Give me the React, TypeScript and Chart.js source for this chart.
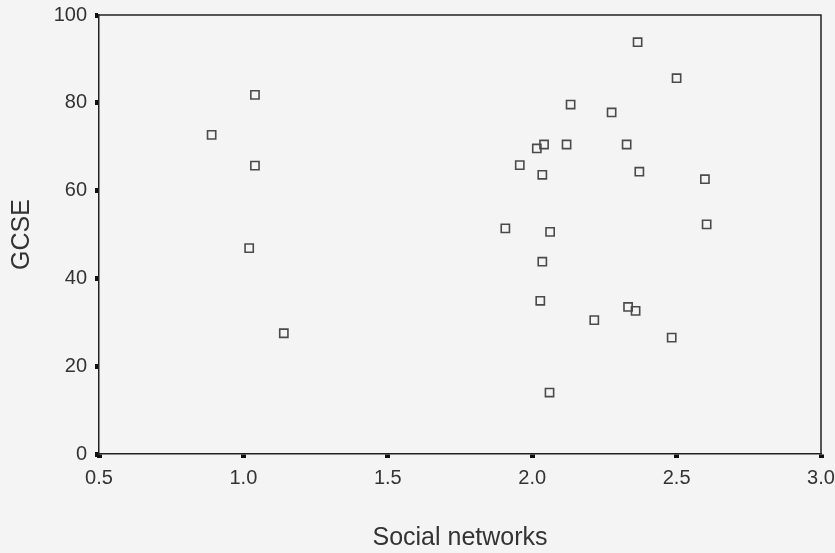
import React, { useEffect, useRef } from "react";
import { Chart, registerables } from "chart.js";

Chart.register(...registerables);

// Social networks score (x) and GCSE score (y) for each respondent
const socialNetworks: number[] = [
  1.04, 0.89, 1.04, 1.02, 1.14,
  2.365, 2.50, 2.133, 2.275, 2.041, 2.016, 2.119, 2.327, 1.957, 2.035, 2.371,
  2.598, 1.907, 2.062, 2.604, 2.035, 2.028, 2.215, 2.332, 2.358, 2.483, 2.06,
];
const gcse: number[] = [
  81.8, 72.7, 65.7, 46.9, 27.5,
  93.8, 85.6, 79.6, 77.8, 70.5, 69.6, 70.5, 70.5, 65.8, 63.6, 64.3,
  62.6, 51.4, 50.6, 52.3, 43.8, 34.9, 30.5, 33.5, 32.6, 26.5, 14.0,
];

const xTitle = "Social networks";
const yTitle = "GCSE";
const xMin = 0.5;
const xMax = 3.0;
const xStep = 0.5;
const yMin = 0;
const yMax = 100;
const yStep = 20;

const FONT = "'Liberation Sans', Arial, Helvetica, sans-serif";

export default function App() {
  const ref = useRef<HTMLCanvasElement | null>(null);

  useEffect(() => {
    const canvas = ref.current;
    if (!canvas) return;
    const points = socialNetworks.map((x, i) => ({ x, y: gcse[i] }));

    const bgPlugin = {
      id: "bg",
      beforeDraw(chart: any) {
        const ctx = chart.ctx;
        ctx.save();
        ctx.fillStyle = "#f4f4f4";
        ctx.fillRect(0, 0, chart.width, chart.height);
        ctx.restore();
      },
      afterDraw(chart: any) {
        const { left, top, right, bottom } = chart.chartArea;
        const ctx = chart.ctx;
        ctx.save();
        ctx.strokeStyle = "#222";
        ctx.lineWidth = 1.5;
        ctx.beginPath();
        ctx.moveTo(left, top);
        ctx.lineTo(right, top);
        ctx.lineTo(right, bottom);
        ctx.stroke();
        ctx.restore();
      },
    };

    const chart = new Chart(canvas, {
      type: "scatter",
      data: {
        datasets: [
          {
            data: points,
            pointStyle: "rect",
            pointRadius: 5.8,
            pointHoverRadius: 5.8,
            borderColor: "#4a4a4a",
            borderWidth: 1.6,
            backgroundColor: "rgba(0,0,0,0)",
          },
        ],
      },
      options: {
        animation: false,
        responsive: false,
        events: [],
        layout: { padding: { left: 0, top: 15, right: 14, bottom: 0 } },
        plugins: {
          legend: { display: false },
          tooltip: { enabled: false },
        },
        scales: {
          x: {
            type: "linear",
            min: xMin,
            max: xMax,
            afterFit(scale: any) {
              scale.height = 99;
              scale.paddingLeft = 0;
              scale.paddingRight = 0;
            },
            ticks: {
              stepSize: xStep,
              padding: 8,
              color: "#333",
              font: { family: FONT, size: 20 },
              callback: (v: any) => Number(v).toFixed(1),
            },
            grid: {
              drawOnChartArea: false,
              drawTicks: true,
              tickLength: 4,
              tickWidth: 5,
              tickColor: "#111",
            },
            border: { display: true, color: "#222", width: 1.5 },
            title: {
              display: true,
              text: xTitle,
              color: "#333",
              font: { family: FONT, size: 25 },
              padding: { top: 0, bottom: 0 },
            },
          },
          y: {
            type: "linear",
            min: yMin,
            max: yMax,
            afterFit(scale: any) {
              scale.width = 99;
              scale.paddingTop = 0;
              scale.paddingBottom = 0;
            },
            ticks: {
              stepSize: yStep,
              padding: 8,
              color: "#333",
              font: { family: FONT, size: 20 },
            },
            grid: {
              drawOnChartArea: false,
              drawTicks: true,
              tickLength: 4,
              tickWidth: 5,
              tickColor: "#111",
            },
            border: { display: true, color: "#222", width: 1.5 },
            title: {
              display: true,
              text: yTitle,
              color: "#333",
              font: { family: FONT, size: 25 },
              padding: { top: 7, bottom: 0 },
            },
          },
        },
      },
      plugins: [bgPlugin],
    });

    return () => chart.destroy();
  }, []);

  return (
    <div style={{ position: "fixed", left: 0, top: 0, width: 835, height: 553 }}>
      <canvas ref={ref} width={835} height={553} style={{ display: "block" }} />
    </div>
  );
}
